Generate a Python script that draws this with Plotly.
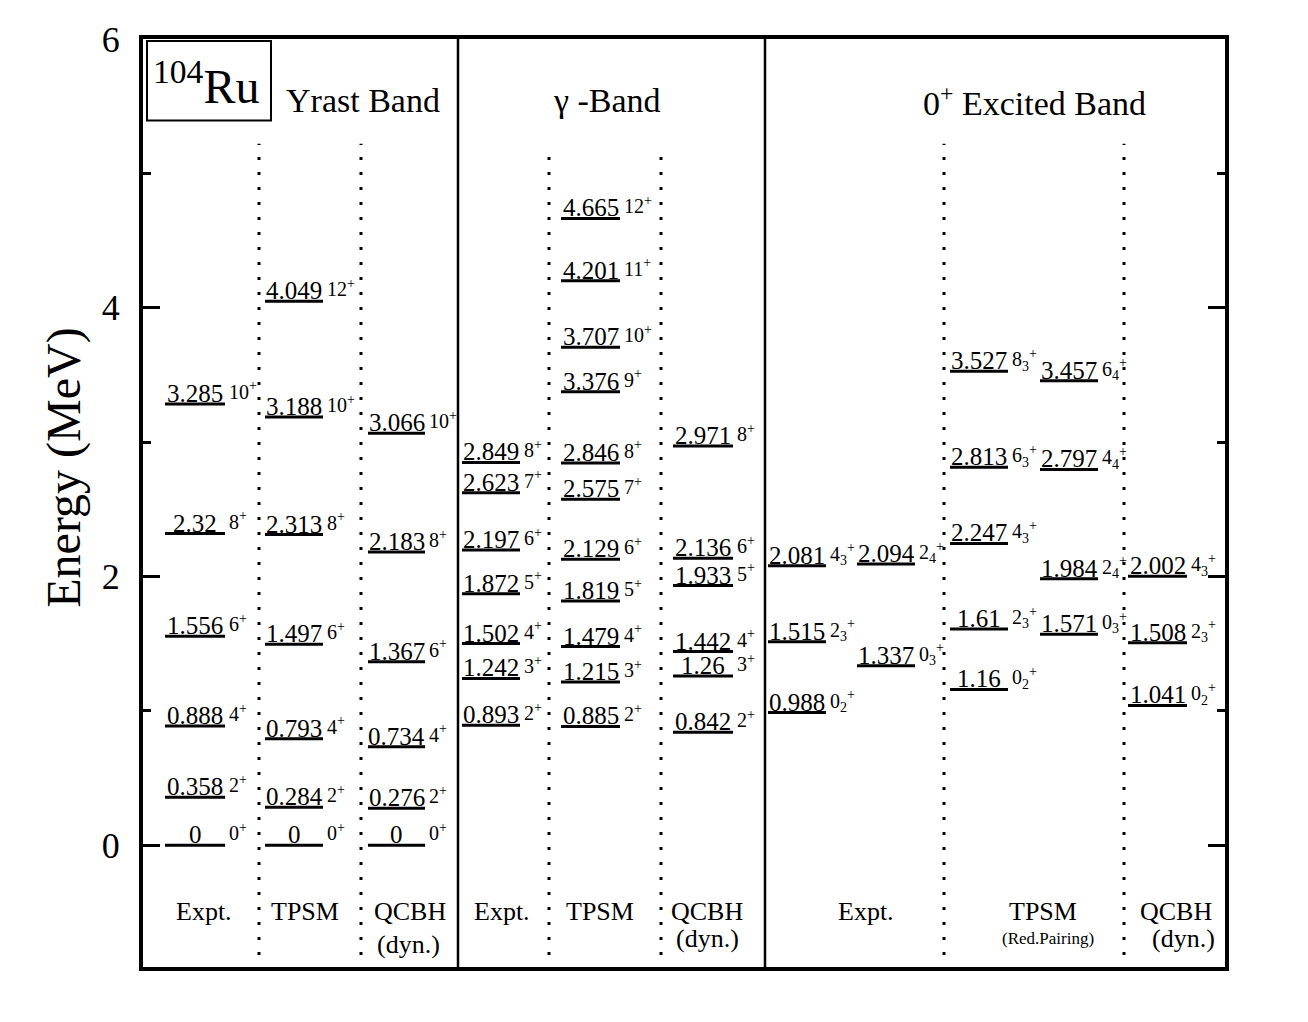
import plotly.graph_objects as go

yrast_expt = [0, 0.358, 0.888, 1.556, 2.32, 3.285]
yrast_expt_spin = ["0", "2", "4", "6", "8", "10"]
yrast_tpsm = [0, 0.284, 0.793, 1.497, 2.313, 3.188, 4.049]
yrast_tpsm_spin = ["0", "2", "4", "6", "8", "10", "12"]
yrast_qcbh = [0, 0.276, 0.734, 1.367, 2.183, 3.066]
yrast_qcbh_spin = ["0", "2", "4", "6", "8", "10"]

gamma_expt = [0.893, 1.242, 1.502, 1.872, 2.197, 2.623, 2.849]
gamma_expt_spin = ["2", "3", "4", "5", "6", "7", "8"]
gamma_tpsm = [0.885, 1.215, 1.479, 1.819, 2.129, 2.575, 2.846, 3.376, 3.707, 4.201, 4.665]
gamma_tpsm_spin = ["2", "3", "4", "5", "6", "7", "8", "9", "10", "11", "12"]
gamma_qcbh = [0.842, 1.26, 1.442, 1.933, 2.136, 2.971]
gamma_qcbh_spin = ["2", "3", "4", "5", "6", "8"]

exc_expt_a = [0.988, 1.515, 2.081]
exc_expt_a_spin = ["0_2", "2_3", "4_3"]
exc_expt_b = [1.337, 2.094]
exc_expt_b_spin = ["0_3", "2_4"]
exc_tpsm_a = [1.16, 1.61, 2.247, 2.813, 3.527]
exc_tpsm_a_spin = ["0_2", "2_3", "4_3", "6_3", "8_3"]
exc_tpsm_b = [1.571, 1.984, 2.797, 3.457]
exc_tpsm_b_spin = ["0_3", "2_4", "4_4", "6_4"]
exc_qcbh = [1.041, 1.508, 2.002]
exc_qcbh_spin = ["0_2", "2_3", "4_3"]

# column layout: data, spins, line start, line end (horizontal pixel units)
columns = [
    (yrast_expt, yrast_expt_spin, 165, 225),
    (yrast_tpsm, yrast_tpsm_spin, 265, 323),
    (yrast_qcbh, yrast_qcbh_spin, 368, 425),
    (gamma_expt, gamma_expt_spin, 462, 520),
    (gamma_tpsm, gamma_tpsm_spin, 561, 620),
    (gamma_qcbh, gamma_qcbh_spin, 673, 733),
    (exc_expt_a, exc_expt_a_spin, 768, 826),
    (exc_expt_b, exc_expt_b_spin, 857, 915),
    (exc_tpsm_a, exc_tpsm_a_spin, 950, 1008),
    (exc_tpsm_b, exc_tpsm_b_spin, 1040, 1098),
    (exc_qcbh, exc_qcbh_spin, 1128, 1187),
]

FONT = "Liberation Serif"


def spin_label(s):
    if "_" in s:
        j, k = s.split("_")
        return f"{j}<sub>{k}</sub><sup>+</sup>"
    return f"{s}<sup>+</sup>"


fig = go.Figure()
annotations = []

for energies, spins, x0, x1 in columns:
    xs, ys = [], []
    for e in energies:
        xs += [x0, x1, None]
        ys += [e, e, None]
    fig.add_trace(go.Scatter(x=xs, y=ys, mode="lines",
                             line=dict(color="black", width=3),
                             hoverinfo="skip"))
    # spin labels to the right of each level
    fig.add_trace(go.Scatter(x=[x1 + 4] * len(energies), y=energies, mode="text",
                             text=[spin_label(s) for s in spins],
                             textposition="top right",
                             textfont=dict(family=FONT, size=20, color="black"),
                             hoverinfo="skip"))
    # energy values sitting on the level lines
    for e in energies:
        annotations.append(dict(x=(x0 + x1) / 2, y=e, xref="x", yref="y",
                                text=f"{e:g}", showarrow=False,
                                xanchor="center", yanchor="bottom", yshift=-5,
                                font=dict(family=FONT, size=25, color="black")))

# band titles
titles = [("Yrast Band", 363), ("\u03b3 -Band", 607), ("0<sup>+</sup> Excited Band", 1034)]
for txt, xc in titles:
    annotations.append(dict(x=xc, y=5.54, xref="x", yref="y", text=txt, showarrow=False,
                            font=dict(family=FONT, size=34, color="black")))

annotations.append(dict(x=151, y=5.67, xref="x", yref="y", text="<sup>104</sup>Ru",
                        showarrow=False, xanchor="left", yanchor="middle",
                        font=dict(family=FONT, size=48, color="black")))

# column labels at the bottom
bottom = [("Expt.", 204, -0.49, 26), ("TPSM", 305, -0.49, 26), ("QCBH", 410, -0.49, 26),
          ("(dyn.)", 408, -0.74, 26),
          ("Expt.", 502, -0.49, 26), ("TPSM", 600, -0.49, 26), ("QCBH", 707, -0.49, 26),
          ("(dyn.)", 707, -0.69, 26),
          ("Expt.", 866, -0.49, 26), ("TPSM", 1043, -0.49, 26), ("(Red.Pairing)", 1048, -0.69, 17),
          ("QCBH", 1176, -0.49, 26), ("(dyn.)", 1183, -0.69, 26)]
for txt, xc, yc, fs in bottom:
    annotations.append(dict(x=xc, y=yc, xref="x", yref="y", text=txt, showarrow=False,
                            font=dict(family=FONT, size=fs, color="black")))

annotations.append(dict(x=-0.073, y=2.81, xref="paper", yref="y", text="Energy (MeV)",
                        showarrow=False, textangle=-90, xanchor="center", yanchor="middle",
                        font=dict(family=FONT, size=48, color="black")))

shapes = []
# solid band separators
for xs in [458, 765]:
    shapes.append(dict(type="line", xref="x", yref="y", x0=xs, x1=xs, y0=-0.905, y1=6,
                       line=dict(color="black", width=2.5)))
# dotted column separators
for xs, ytop in [(259, 5.22), (361, 5.22), (549, 5.2), (661, 5.15), (944, 5.22), (1124, 5.22)]:
    shapes.append(dict(type="line", xref="x", yref="y", x0=xs, x1=xs, y0=-0.815, y1=ytop,
                       line=dict(color="black", width=3, dash="3px,12px")))
# nucleus label box
shapes.append(dict(type="rect", xref="x", yref="y", x0=147, x1=271, y0=5.393, y1=5.985,
                   line=dict(color="black", width=2)))

fig.update_layout(
    width=1308, height=1022,
    margin=dict(l=135, r=91, t=27, b=63),
    paper_bgcolor="white", plot_bgcolor="white",
    showlegend=False,
    font=dict(family=FONT, color="black"),
    annotations=annotations,
    shapes=shapes,
    xaxis=dict(range=[143, 1225], showgrid=False, zeroline=False, showticklabels=False,
               showline=True, mirror=True, linewidth=4, linecolor="black", ticks=""),
    yaxis=dict(range=[-0.905, 6], tickvals=[0, 2, 4, 6], ticks="inside", ticklen=17,
               tickwidth=3, tickcolor="black", mirror="ticks", showline=True, linewidth=4,
               linecolor="black", showgrid=False, zeroline=False,
               tickfont=dict(family=FONT, size=36, color="black"), ticklabelstandoff=12,
               minor=dict(tickvals=[1, 3, 5], ticks="inside", ticklen=8, tickwidth=3,
                          tickcolor="black", showgrid=False)),
)

fig.write_html("out.html")
